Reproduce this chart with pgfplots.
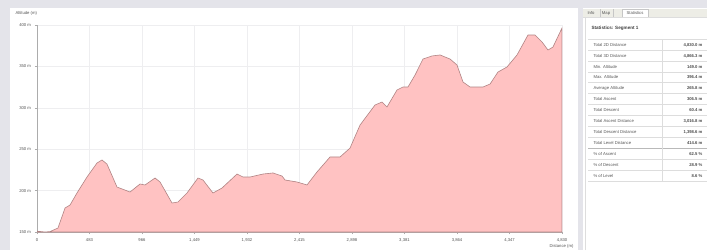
\documentclass[border=0pt]{standalone}
\usepackage{fontspec}
\setmainfont{Liberation Sans}
\usepackage{pgfplots}
\pgfplotsset{compat=1.18}
\definecolor{bg}{HTML}{E4E4EA}
\definecolor{pinkfill}{HTML}{FFC2C2}
\definecolor{pinkline}{HTML}{B08484}
\definecolor{gridc}{HTML}{EEEEF0}
\definecolor{txt}{HTML}{555555}
\definecolor{tabgrey}{HTML}{EDEDE6}
\definecolor{sep}{HTML}{DDDDDD}
\newcommand{\tf}{\fontsize{4.2}{5}\selectfont}
\begin{document}
\begin{tikzpicture}[x=1pt,y=1pt]
\path[use as bounding box] (0,0) rectangle (707,250);
\fill[bg] (0,0) rectangle (707,250);
\fill[white] (10,0) rectangle (578,242);
\fill[white] (583,0) rectangle (707,242);
% tab strip
\fill[tabgrey] (583,233) rectangle (707,241);
\draw[sep] (583,233) -- (707,233);
\draw[gray!45] (600,233) -- (600,241);
\draw[gray!45] (613,233) -- (613,241);
\fill[white] (622,233) rectangle (648,241);
\draw[gray!45] (622,233) -- (622,241) -- (648,241) -- (648,233);
\node[font=\tf, text=txt] at (591,237) {Info};
\node[font=\tf, text=txt] at (606,237) {Map};
\node[font=\tf, text=txt] at (635,237) {Statistics};
\draw[sep] (585,0) -- (585,233);
% heading
\node[anchor=west, font=\fontsize{4.6}{5}\selectfont\bfseries, text=black!75] at (588,222) {Statistics: Segment 1};
% table
\foreach \yy/\lab/\val in {205/Total 2D Distance/{4,830.0 m},194/Total 3D Distance/{4,866.3 m},183/Min. Altitude/{149.0 m},173/Max. Altitude/{396.4 m},162/Average Altitude/{265.8 m},151/Total Ascent/{306.5 m},140/Total Descent/{60.4 m},129/Total Ascent Distance/{3,016.8 m},118/Total Descent Distance/{1,398.6 m},107/Total Level Distance/{414.6 m},96/\% of Ascent/{62.5 \%},85/\% of Descent/{28.9 \%},74/\% of Level/{8.6 \%}}{
  \node[anchor=west, font=\tf, text=txt] at (590,\yy) {\lab};
  \node[anchor=east, font=\tf\bfseries, text=black!70] at (706,\yy) {\val};
  \draw[sep, line width=0.4pt] (588,\yy-5.4) -- (707,\yy-5.4);
}
\draw[sep, line width=0.4pt] (588,210.5) -- (707,210.5);
\draw[gray!55, line width=0.5pt] (588,101.6) -- (707,101.6);
\draw[sep, line width=0.4pt] (662,210.5) -- (662,68.6);
% chart labels
\node[anchor=west, font=\tf, text=txt] at (12,237) {Altitude (m)};
\node[anchor=east, font=\tf, text=txt] at (577,3.5) {Distance (m)};
\begin{axis}[
  at={(37pt,18pt)}, anchor=south west,
  scale only axis, width=525pt, height=207pt,
  xmin=0, xmax=4830, ymin=150, ymax=400,
  axis lines=left, axis line style={-, draw=gray!65, line width=0.5pt},
  xtick={0,483,966,1449,1932,2415,2898,3381,3864,4347,4830},
  xticklabels={0,483,966,{1,449},{1,932},{2,415},{2,898},{3,381},{3,864},{4,347},{4,830}},
  ytick={150,200,250,300,350,400},
  yticklabels={150 m,200 m,250 m,300 m,350 m,400 m},
  tick label style={font=\tf, text=txt},
  /pgf/number format/assume math mode=true,
  tick align=outside, major tick length=2pt,
  tick style={draw=gray!65, line width=0.4pt},
  xticklabel style={yshift=-1pt},
  yticklabel style={xshift=-0.5pt},
  grid=major, grid style={draw=gridc, line width=0.5pt},
  clip=true,
]
\addplot[fill=pinkfill, draw=pinkline, line width=0.6pt] coordinates {
(0,151) (74,150) (120,150.5) (193,154.8) (258,179) (304,182.6) (368,197.1) (460,216.4) (552,233.3) (598,237) (644,232) (736,204.3) (856,198.3) (948,208) (994,206.8) (1086,215.2) (1132,210.4) (1242,185) (1297,186.2) (1380,197.1) (1481,215.2) (1527,212.8) (1619,197.1) (1702,203.1) (1840,220) (1895,216.4) (1960,216.4) (2079,220) (2171,221.3) (2254,217.6) (2282,212.8) (2392,210.4) (2484,206.8) (2576,222.5) (2696,240.6) (2788,240.6) (2880,251.4) (2972,279.2) (3110,303.4) (3174,307) (3220,301) (3312,321.5) (3367,325.1) (3413,325.1) (3478,339.6) (3551,358.9) (3634,362.6) (3708,363.8) (3800,358.9) (3864,351.7) (3919,331.2) (3984,325.1) (4103,325.1) (4168,328.7) (4241,343.2) (4324,349.3) (4416,363.8) (4517,387.9) (4582,387.9) (4646,379.5) (4701,369.8) (4747,373.4) (4830,396.4)
} \closedcycle;
\end{axis}
\end{tikzpicture}
\end{document}
